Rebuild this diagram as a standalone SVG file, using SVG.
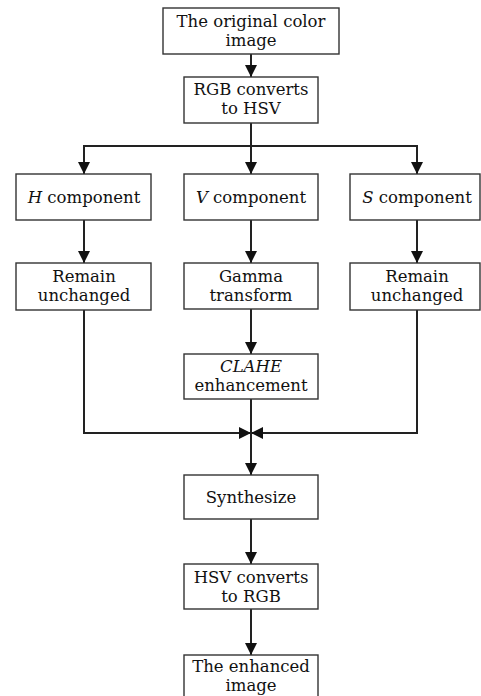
<svg xmlns="http://www.w3.org/2000/svg" width="481" height="696" viewBox="0 0 481 696">
<defs>
<style>
.box{fill:#fff;stroke:#333;stroke-width:1.4}
.t{font-family:'DejaVu Serif',serif;font-size:16.5px;fill:#111;text-anchor:middle}
.i{font-style:italic}
.c{fill:none;stroke:#222;stroke-width:2}
</style>
<marker id="ah" viewBox="0 0 12 12" refX="12" refY="6" markerWidth="12" markerHeight="12" markerUnits="userSpaceOnUse" orient="auto">
<path d="M0,0 L12,6 L0,12 Z" fill="#111"/>
</marker>
</defs>
<rect width="481" height="696" fill="#fff"/>
<g id="connectors">
<path class="c" d="M251,54 V77" marker-end="url(#ah)"/>
<path class="c" d="M251,123 V174" marker-end="url(#ah)"/>
<path class="c" d="M84,174 V146 H417 V174" marker-end="url(#ah)"/>
<path class="c" d="M84,146 V174" marker-end="url(#ah)"/>
<path class="c" d="M84,220 V263" marker-end="url(#ah)"/>
<path class="c" d="M251,220 V263" marker-end="url(#ah)"/>
<path class="c" d="M417,220 V263" marker-end="url(#ah)"/>
<path class="c" d="M251,309 V354" marker-end="url(#ah)"/>
<path class="c" d="M84,310 V433 H251" marker-end="url(#ah)"/>
<path class="c" d="M417,310 V433 H251" marker-end="url(#ah)"/>
<path class="c" d="M251,399 V475" marker-end="url(#ah)"/>
<path class="c" d="M251,519 V564" marker-end="url(#ah)"/>
<path class="c" d="M251,609 V655" marker-end="url(#ah)"/>
</g>
<g id="n1"><rect class="box" x="163" y="8" width="176" height="46"/><text class="t" x="251" y="27">The original color</text><text class="t" x="251" y="45.5">image</text></g>
<g id="n2"><rect class="box" x="184" y="77" width="134" height="46"/><text class="t" x="251" y="95">RGB converts</text><text class="t" x="251" y="114">to HSV</text></g>
<g id="n3"><rect class="box" x="16" y="174" width="135" height="46"/><text class="t" x="84" y="203"><tspan class="i">H</tspan> component</text></g>
<g id="n4"><rect class="box" x="184" y="174" width="134" height="46"/><text class="t" x="251" y="203"><tspan class="i">V</tspan> component</text></g>
<g id="n5"><rect class="box" x="350" y="174" width="130" height="46"/><text class="t" x="417" y="203"><tspan class="i">S</tspan> component</text></g>
<g id="n6"><rect class="box" x="16" y="263" width="135" height="47"/><text class="t" x="84" y="282">Remain</text><text class="t" x="84" y="301">unchanged</text></g>
<g id="n7"><rect class="box" x="184" y="263" width="134" height="46"/><text class="t" x="251" y="281.5">Gamma</text><text class="t" x="251" y="300.5">transform</text></g>
<g id="n8"><rect class="box" x="350" y="263" width="130" height="47"/><text class="t" x="417" y="282">Remain</text><text class="t" x="417" y="301">unchanged</text></g>
<g id="n9"><rect class="box" x="184" y="354" width="134" height="45"/><text class="t i" x="251" y="371.5">CLAHE</text><text class="t" x="251" y="390.5">enhancement</text></g>
<g id="n10"><rect class="box" x="184" y="475" width="134" height="44"/><text class="t" x="251" y="503">Synthesize</text></g>
<g id="n11"><rect class="box" x="184" y="564" width="134" height="45"/><text class="t" x="251" y="583">HSV converts</text><text class="t" x="251" y="602">to RGB</text></g>
<g id="n12"><rect class="box" x="184" y="655" width="134" height="45"/><text class="t" x="251" y="672">The enhanced</text><text class="t" x="251" y="690.5">image</text></g>
</svg>
